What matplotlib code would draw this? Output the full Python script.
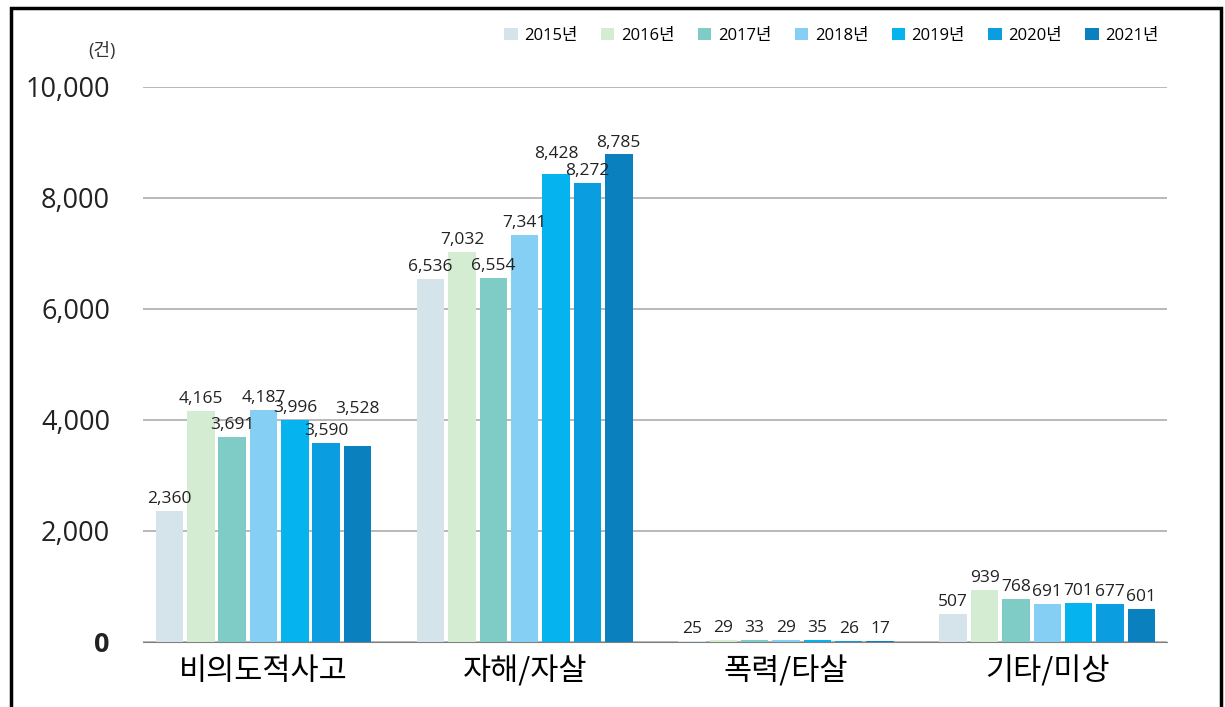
import matplotlib.pyplot as plt
import numpy as np
from matplotlib.patches import Rectangle

plt.rcParams['font.family'] = ['Open Sans', 'Noto Sans CJK KR', 'DejaVu Sans']

categories = ['비의도적사고', '자해/자살', '폭력/타살', '기타/미상']
years = ['2015년', '2016년', '2017년', '2018년', '2019년', '2020년', '2021년']
values = {
    '2015년': [2360, 6536, 25, 507],
    '2016년': [4165, 7032, 29, 939],
    '2017년': [3691, 6554, 33, 768],
    '2018년': [4187, 7341, 29, 691],
    '2019년': [3996, 8428, 35, 701],
    '2020년': [3590, 8272, 26, 677],
    '2021년': [3528, 8785, 17, 601],
}
colors = ['#d5e3ea', '#d4ecd2', '#7fccc7', '#86cff4', '#05b4ef', '#0a9de0', '#0a80be']
yticks = [0, 2000, 4000, 6000, 8000, 10000]
# labels nudged upward so they do not collide (year, category) -> extra offset
label_nudge = {('2021년', 0): 450, ('2019년', 1): 150}

fig = plt.figure(figsize=(12.25, 7.07), dpi=100)
ax = fig.add_axes([0.117, 0.092, 0.836, 0.785])

x = np.arange(len(categories))
slot = 0.12
width = 0.105
for i, year in enumerate(years):
    pos = x + (i - 3) * slot
    bars = ax.bar(pos, values[year], width, color=colors[i], label=year, zorder=3)
    for j, (b, v) in enumerate(zip(bars, values[year])):
        ax.text(b.get_x() + b.get_width() / 2, v + 70 + label_nudge.get((year, j), 0), f'{v:,}',
                ha='center', va='bottom', fontsize=12.5, color='#222222', zorder=4)

ax.set_xlim(-0.46, 3.46)
ax.set_ylim(0, 10000)
ax.set_yticks(yticks)
ax.set_yticklabels([f'{t:,}' for t in yticks], fontsize=19.5, color='#222222')
ax.get_yticklabels()[0].set_fontweight('bold')
ax.set_xticks(x)
ax.set_xticklabels(categories, fontsize=22, family=['Noto Sans CJK KR'])
ax.tick_params(axis='x', length=0, pad=10)
ax.tick_params(axis='y', length=0, pad=24)
ax.grid(axis='y', color='#a6a6a6', linewidth=1.1, zorder=0)
for s in ['top', 'right', 'left']:
    ax.spines[s].set_visible(False)
ax.spines['bottom'].set_color('#808080')

fig.text(0.094, 0.928, '(건)', fontsize=13, ha='right', va='center', color='#333333')

fig.legend(loc='upper right', bbox_to_anchor=(0.958, 0.982), ncol=7, frameon=False,
           handlelength=0.8, handleheight=0.8, handletextpad=0.4, columnspacing=1.4,
           prop={'family': ['Open Sans', 'Noto Sans CJK KR'], 'size': 12})

fig.add_artist(Rectangle((0.009, -0.02), 0.988, 1.008, transform=fig.transFigure,
                         fill=False, edgecolor='black', linewidth=2.5))

plt.savefig('out.png', dpi=100)
